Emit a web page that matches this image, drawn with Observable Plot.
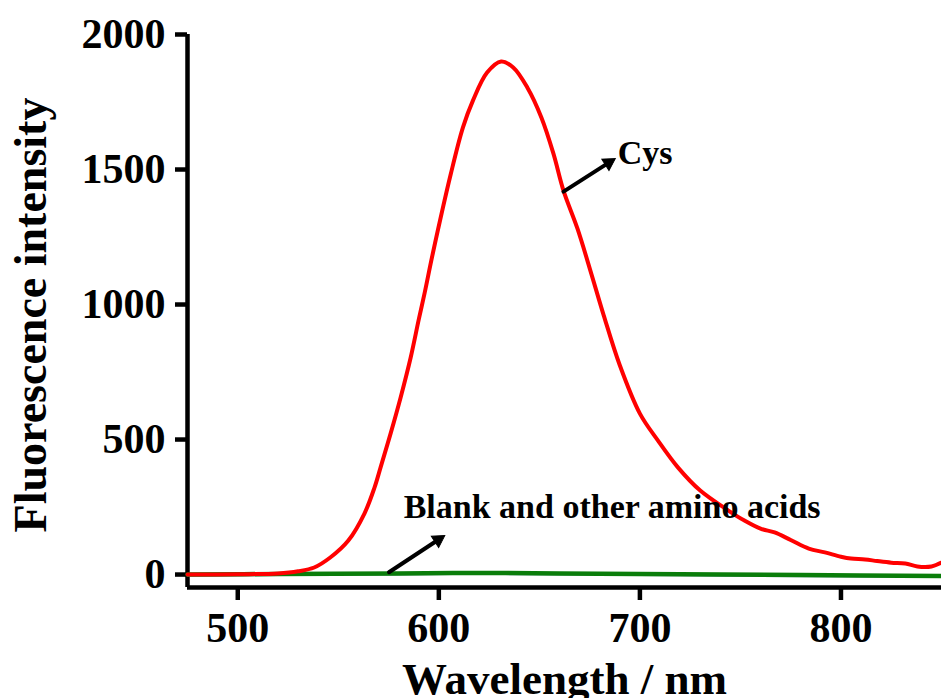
<!DOCTYPE html>
<html>
<head>
<meta charset="utf-8">
<script src="https://cdn.jsdelivr.net/npm/d3@7"></script>
<script src="https://cdn.jsdelivr.net/npm/@observablehq/plot@0.6"></script>
<style>
  html, body { margin: 0; padding: 0; background: #fff; }
</style>
</head>
<body>
<div id="chart"></div>
<script>
// Emission spectrum of the probe with cysteine (red)
const wavelength = [475, 500, 520, 530, 538, 546, 555, 563, 568, 571, 576, 581, 586, 590, 593, 597, 606, 612, 617, 624, 631, 637, 644, 651, 657, 662, 669, 676, 682, 690, 700, 709, 719, 730, 744, 752, 760, 767, 775, 784, 792, 800, 805, 812, 818, 825, 832, 838, 845, 850];
const cysIntensity = [0, 1, 4, 12, 26, 63, 126, 226, 322, 396, 522, 656, 804, 944, 1045, 1189, 1485, 1656, 1756, 1859, 1900, 1878, 1804, 1693, 1559, 1422, 1280, 1110, 960, 775, 596, 496, 396, 311, 237, 200, 170, 156, 128, 96, 82, 66, 59, 56, 50, 44, 41, 30, 30, 44];

// Blank and the other amino acids (green)
const blankWavelength = [475, 520, 580, 620, 660, 720, 780, 850];
const blankIntensity = [0, 2, 4, 6, 4, 1, -2, -5];

// Axis ticks
const xTicks = [500, 600, 700, 800];
const yTicks = [0, 500, 1000, 1500, 2000];

// Annotations: text and arrow (tail → tip), arrowhead angle in degrees
const noteText = ["Cys", "Blank and other amino acids"];
const noteX = [689, 582.5];
const noteY = [1522, 211];
const arrowX1 = [662, 575.2];
const arrowY1 = [1418, 8.5];
const arrowX2 = [687, 602.2];
const arrowY2 = [1537, 140.7];
const headAngle = [58, 57];

const xDomain = [475, 850];
const yDomain = [-48, 2000];

const cys = wavelength.map((w, i) => ({w, v: cysIntensity[i]}));
const blank = blankWavelength.map((w, i) => ({w, v: blankIntensity[i]}));
const notes = noteText.map((t, i) => ({t, x: noteX[i], y: noteY[i]}));
const arrows = noteText.map((t, i) => ({x1: arrowX1[i], y1: arrowY1[i], x2: arrowX2[i], y2: arrowY2[i], a: headAngle[i]}));

const font = "'Liberation Serif', 'Times New Roman', serif";

// Shift a point a few pixels back along its arrow so the filled head ends at the tip
function headPoint(d, key, px) {
  const sx = 2.01, sy = 0.27; // pixels per unit on x and y
  const dx = (d.x2 - d.x1) * sx, dy = (d.y2 - d.y1) * sy;
  const len = Math.hypot(dx, dy);
  return key === "x" ? d.x2 - (dx / len) * px / sx : d.y2 - (dy / len) * px / sy;
}

const chart = Plot.plot({
  width: 941,
  height: 698,
  marginLeft: 187,
  marginRight: 0,
  marginTop: 34,
  marginBottom: 111,
  style: {fontFamily: font, background: "#fff", color: "#000"},
  x: {domain: xDomain},
  y: {domain: yDomain},
  marks: [
    Plot.axisX({ticks: xTicks, tickSize: 13, tickPadding: 12, strokeWidth: 4.5, fontSize: 42, fontWeight: "bold", label: null, tickFormat: d => String(d)}),
    Plot.axisY({ticks: yTicks, tickSize: 12, tickPadding: 10, strokeWidth: 4.5, fontSize: 42, fontWeight: "bold", label: null, tickFormat: d => String(d)}),
    Plot.ruleY([yDomain[0]], {stroke: "#000", strokeWidth: 4.5}),
    Plot.ruleX([xDomain[0]], {y1: yDomain[0], y2: yDomain[1], stroke: "#000", strokeWidth: 4.5}),
    Plot.line(blank, {x: "w", y: d => d.v - 5, stroke: "#8aa0c8", strokeWidth: 1.5, curve: "catmull-rom"}),
    Plot.line(blank, {x: "w", y: "v", stroke: "#0a7d0a", strokeWidth: 4.5, curve: "catmull-rom"}),
    Plot.line(cys, {x: "w", y: "v", stroke: "#ff0000", strokeWidth: 4, curve: "catmull-rom"}),
    Plot.arrow(arrows, {x1: "x1", y1: "y1", x2: d => headPoint(d, "x", 10), y2: d => headPoint(d, "y", 10), stroke: "#000", strokeWidth: 4, headLength: 0, strokeLinecap: "round"}),
    Plot.dot(arrows, {x: d => headPoint(d, "x", 6), y: d => headPoint(d, "y", 6), symbol: "triangle", r: 5, fill: "#000", stroke: "#000", strokeWidth: 1, rotate: "a"}),
    Plot.text(notes, {x: "x", y: "y", text: "t", textAnchor: "start", lineAnchor: "bottom", fontSize: 34, fontWeight: "bold", fill: "#000"}),
    Plot.text(["Wavelength / nm"], {frameAnchor: "bottom", textAnchor: "middle", lineAnchor: "bottom", dy: 106, fontSize: 45, fontWeight: "bold", fill: "#000"}),
    Plot.text(["Fluorescence intensity"], {frameAnchor: "left", textAnchor: "middle", lineAnchor: "bottom", rotate: -90, dx: -142, dy: 4, fontSize: 46, fontWeight: "bold", fill: "#000"})
  ]
});

document.getElementById("chart").appendChild(chart);
</script>
</body>
</html>
